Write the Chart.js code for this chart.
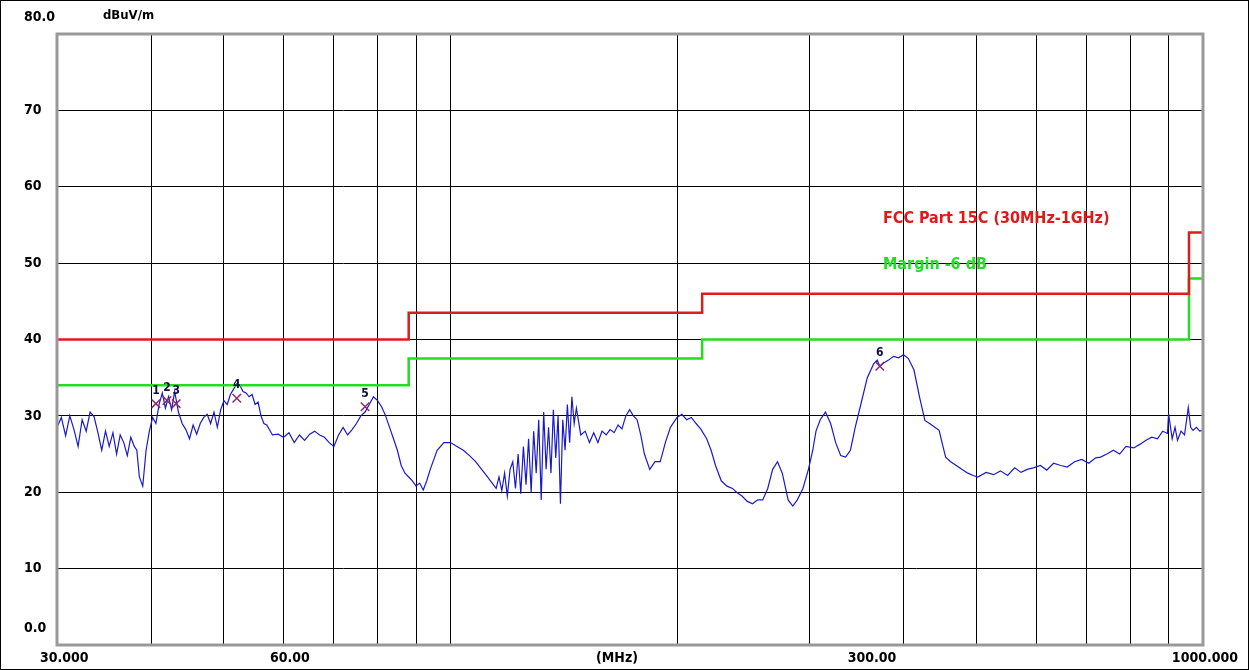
<!DOCTYPE html>
<html><head><meta charset="utf-8">
<script src="https://cdn.jsdelivr.net/npm/chart.js@4"></script>
<style>html,body{margin:0;padding:0;background:#fff}#wrap{width:1249px;height:670px;position:relative}</style>
</head><body><div id="wrap"><canvas id="c"></canvas></div>
<script>
// measured trace: [frequency MHz, level dBuV/m]
const trace = [
[30,28.5],[30.4,29.8],[30.8,27.4],[31.2,30.0],[31.6,28.2],[32,26.0],[32.4,29.5],[32.8,28.0],[33.2,30.5],[33.6,29.9],
[34,27.8],[34.4,25.5],[34.8,28.0],[35.2,26.0],[35.6,27.8],[36,25.0],[36.4,27.5],[36.8,26.5],[37.2,24.8],[37.6,27.2],
[38,26.0],[38.3,25.5],[38.6,22.0],[39,20.8],[39.4,25.5],[39.8,28.0],[40.2,29.8],[40.6,29.0],[41,31.5],[41.4,33.0],
[41.8,31.0],[42.2,32.5],[42.6,30.8],[43,33.2],[43.5,30.5],[44,29.0],[44.5,28.2],[45,27.0],[45.5,28.8],[46,27.6],
[46.5,29.0],[47,29.8],[47.5,30.2],[48,29.0],[48.5,30.5],[49,28.5],[49.5,30.8],[50,32.0],[50.5,31.5],[51,32.8],
[51.5,33.5],[52,34.2],[52.5,34.0],[53,33.2],[53.5,33.0],[54,32.5],[54.5,32.8],[55,31.5],[55.5,31.8],[56,30.0],
[56.5,29.0],[57,28.8],[58,27.5],[59,27.6],[60,27.2],[61,27.8],[62,26.5],[63,27.5],[64,26.8],[65,27.6],
[66,28.0],[67,27.5],[68,27.2],[69,26.5],[70,26.0],[71,27.5],[72,28.5],[73,27.5],[74,28.2],[75,29.0],
[76,30.0],[77,30.5],[78,31.5],[79,32.5],[80,32.0],[81,31.2],[82,30.0],[83,28.5],[84,27.0],[85,25.5],
[86,23.5],[87,22.5],[88,22.0],[89,21.5],[90,20.8],[91,21.2],[92,20.3],[93,21.5],[94,23.0],[96,25.5],
[98,26.5],[100,26.5],[102,26.0],[104,25.5],[106,24.8],[108,24.0],[110,23.0],[111,22.5],[112,22.0],[113,21.5],
[114,21.0],[115,20.5],[116,22.0],[117,20.2],[118,22.5],[119,19.5],[120,23.0],[121,24.0],[122,20.5],[123,25.0],
[124,19.8],[125,26.0],[126,21.0],[127,27.0],[128,20.0],[129,28.0],[130,22.5],[131,29.5],[132,19.0],[133,30.5],
[134,23.0],[135,28.5],[136,22.5],[137,30.8],[138,24.5],[139,30.0],[140,18.5],[141,29.5],[142,25.5],[143,31.5],
[144,26.5],[145,32.5],[146,29.0],[147,31.0],[149,27.5],[151,28.0],[153,26.5],[155,27.8],[157,26.5],[159,28.0],
[161,27.5],[163,28.2],[165,27.8],[167,28.8],[169,28.3],[171,30.0],[173,30.8],[175,30.0],[177,29.5],[179,27.5],
[181,25.0],[184,23.0],[187,24.0],[190,24.0],[193,26.5],[196,28.5],[200,29.8],[203,30.2],[206,29.5],[209,29.8],
[212,29.0],[215,28.3],[219,27.0],[222,25.5],[225,23.5],[229,21.5],[233,20.8],[237,20.5],[240,20.0],[244,19.5],
[248,18.8],[252,18.5],[256,19.0],[260,19.0],[264,20.5],[268,23.0],[272,24.0],[276,22.5],[281,19.0],[285,18.2],
[289,19.0],[294,20.5],[299,23.0],[303,25.5],[306,28.0],[310,29.5],[315,30.5],[320,29.0],[325,26.5],[330,24.8],
[335,24.6],[340,25.5],[345,28.5],[350,31.0],[358,35.0],[365,36.8],[369,37.3],[372,36.5],[376,36.9],[382,37.3],
[388,37.8],[394,37.6],[400,38.0],[406,37.5],[413,36.0],[420,32.5],[427,29.4],[436,28.8],[446,28.1],[450,26.5],
[455,24.6],[462,24.0],[470,23.5],[478,23.0],[487,22.5],[495,22.2],[502,22.0],[515,22.6],[527,22.3],[538,22.8],
[550,22.2],[562,23.2],[573,22.6],[584,23.0],[595,23.2],[608,23.5],[620,22.9],[633,23.8],[647,23.5],[660,23.3],
[675,24.0],[690,24.3],[705,23.8],[720,24.5],[731,24.6],[745,25.0],[760,25.5],[775,25.0],[790,26.0],[809,25.8],
[825,26.3],[840,26.8],[855,27.2],[870,27.0],[884,28.0],[897,27.7],[900,30.3],[910,27.0],[918,28.5],[925,26.8],
[935,28.0],[945,27.5],[956,31.1],[963,28.5],[970,28.1],[980,28.5],[990,28.0],[1000,28.1]
];
const limitFreq = [30,88,88,216,216,958,958,1000];
const limitVal = [40,40,43.5,43.5,46,46,54,54];
const marginVal = [34,34,37.5,37.5,40,40,48,48];
const markerFreq = [40.6,42.0,43.2,52.0,77.0,372];
const markerVal = [31.6,32.0,31.6,32.3,31.2,36.5];
const markerLabel = ['1','2','3','4','5','6'];
const xGrid = [30,40,50,60,70,80,90,100,200,300,400,500,600,700,800,900,1000];
const yLabels = ['0.0','10','20','30','40','50','60','70','80.0'];
const xLabels = [['30.000',40,'left'],['60.00',270,'left'],['(MHz)',617,'center'],['300.00',872,'center'],['1000.000',1238,'right']];

const pts = (f,v)=>f.map((x,i)=>({x:x,y:v[i]}));
const FONT='"DejaVu Sans Condensed","Liberation Sans Narrow","Roboto Condensed",sans-serif';
const textPlugin = {
  id:'txt',
  afterDraw(ch){
    const c=ch.ctx, a=ch.chartArea, ys=ch.scales.y, xs=ch.scales.x;
    c.save();
    c.strokeStyle='#999'; c.lineWidth=3; c.strokeRect(a.left,a.top,a.right-a.left,a.bottom-a.top);
    c.strokeStyle='#000'; c.lineWidth=1; c.strokeRect(0.5,0.5,1248,669);
    c.fillStyle='#000'; c.font='bold 14px '+FONT;
    c.textBaseline='middle'; c.textAlign='left';
    yLabels.forEach((t,i)=>{
      let y=ys.getPixelForValue(i*10);
      if(i===0||i===8) y-=17;
      c.fillText(t,24,y);
    });
    c.font='bold 13px '+FONT;
    c.fillText('dBuV/m',103,16);
    c.font='bold 14px '+FONT;
    xLabels.forEach(l=>{c.textAlign=l[2]; c.fillText(l[0],l[1],658);});
    c.font='bold 16px '+FONT;
    c.textAlign='left';
    c.fillStyle='#e01818'; c.fillText('FCC Part 15C (30MHz-1GHz)',883,219);
    c.fillStyle='#22dd22'; c.fillText('Margin -6 dB',883,265);
    c.fillStyle='#101040'; c.textAlign='center'; c.font='bold 12px '+FONT;
    markerFreq.forEach((f,i)=>{
      c.fillText(markerLabel[i],xs.getPixelForValue(f),ys.getPixelForValue(markerVal[i])-13);
    });
    c.restore();
  }
};
new Chart(document.getElementById('c'),{
  type:'scatter',
  data:{datasets:[
    {data:trace.map(p=>({x:p[0],y:p[1]})),showLine:true,borderColor:'#1a1ac8',borderWidth:1.2,pointRadius:0,tension:0,order:3},
    {data:pts(limitFreq,limitVal),showLine:true,borderColor:'#dd1c1c',borderWidth:2.5,pointRadius:0,order:2},
    {data:pts(limitFreq,marginVal),showLine:true,borderColor:'#22dd22',borderWidth:2.5,pointRadius:0,order:2},
    {data:pts(markerFreq,markerVal),showLine:false,pointStyle:'crossRot',pointRadius:6,borderColor:'#8a2a6a',borderWidth:1.5,order:1}
  ]},
  options:{
    responsive:true,maintainAspectRatio:false,animation:false,
    layout:{padding:{left:57,right:46,top:34,bottom:25}},
    plugins:{legend:{display:false},tooltip:{enabled:false}},
    scales:{
      x:{type:'logarithmic',min:30,max:1000,
        afterBuildTicks(s){s.ticks=xGrid.map(v=>({value:v}));},
        ticks:{display:false},grid:{color:'#000',lineWidth:1,drawTicks:false},border:{display:false}},
      y:{min:0,max:80,ticks:{display:false,stepSize:10},grid:{color:'#000',lineWidth:1,drawTicks:false},border:{display:false}}
    }
  },
  plugins:[textPlugin]
});
</script></body></html>
